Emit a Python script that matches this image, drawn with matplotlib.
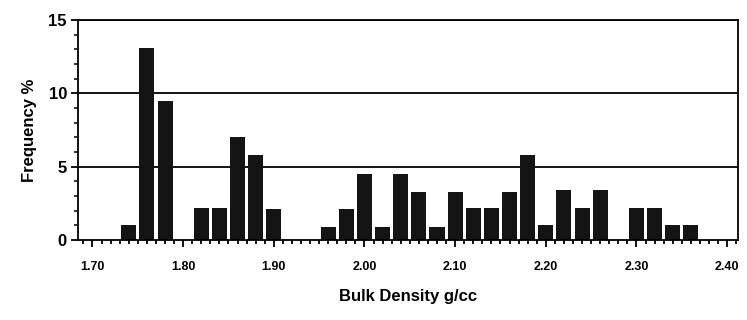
import matplotlib.pyplot as plt
from matplotlib.ticker import MultipleLocator

# bin centres (g/cc) and frequency (%)
density = [1.74, 1.76, 1.78, 1.80, 1.82, 1.84, 1.86, 1.88, 1.90, 1.92, 1.94,
           1.96, 1.98, 2.00, 2.02, 2.04, 2.06, 2.08, 2.10, 2.12, 2.14, 2.16,
           2.18, 2.20, 2.22, 2.24, 2.26, 2.28, 2.30, 2.32, 2.34, 2.36]
frequency = [1.0, 13.1, 9.5, 0.0, 2.2, 2.2, 7.0, 5.8, 2.1, 0.0, 0.0,
             0.9, 2.1, 4.5, 0.9, 4.5, 3.3, 0.9, 3.3, 2.2, 2.2, 3.3,
             5.8, 1.0, 3.4, 2.2, 3.4, 0.0, 2.2, 2.2, 1.0, 1.0]
x_ticks = [1.70, 1.80, 1.90, 2.00, 2.10, 2.20, 2.30, 2.40]
y_ticks = [0, 5, 10, 15]

plt.rcParams['font.family'] = ['Liberation Sans', 'DejaVu Sans']
plt.rcParams['font.weight'] = 'bold'

fig = plt.figure(figsize=(7.47, 3.2), dpi=100)
ax = fig.add_axes([0.1044, 0.25, 0.8836, 0.6875])

# black horizontal gridlines behind the bars
for y in y_ticks[1:]:
    ax.axhline(y, color='black', lw=1.3, zorder=1)

ax.bar(density, frequency, width=0.0166, color='#141414', zorder=2)

ax.set_xlim(1.684, 2.412)
ax.set_ylim(0, 15)

ax.set_xticks(x_ticks)
ax.set_xticklabels(['{:.2f}'.format(v) for v in x_ticks], fontsize=9, fontweight='bold')
ax.xaxis.set_minor_locator(MultipleLocator(0.01))
ax.set_yticks(y_ticks)
ax.set_yticklabels([str(v) for v in y_ticks], fontsize=12, fontweight='bold')
ax.yaxis.set_minor_locator(MultipleLocator(1))

ax.tick_params(axis='x', which='major', direction='out', length=5, width=1.3, pad=10)
ax.tick_params(axis='x', which='minor', direction='out', length=3, width=1.3)
ax.tick_params(axis='y', which='major', direction='out', length=5, width=1.3, pad=3)
ax.tick_params(axis='y', which='minor', direction='out', length=3, width=1.1)

for side in ['left', 'bottom', 'right', 'top']:
    ax.spines[side].set_linewidth(1.3)

ax.set_xlabel('Bulk Density g/cc', fontsize=12, fontweight='bold', labelpad=12)
ax.set_ylabel('Frequency %', fontsize=12, fontweight='bold', labelpad=8)

fig.savefig('out.png', dpi=100)
